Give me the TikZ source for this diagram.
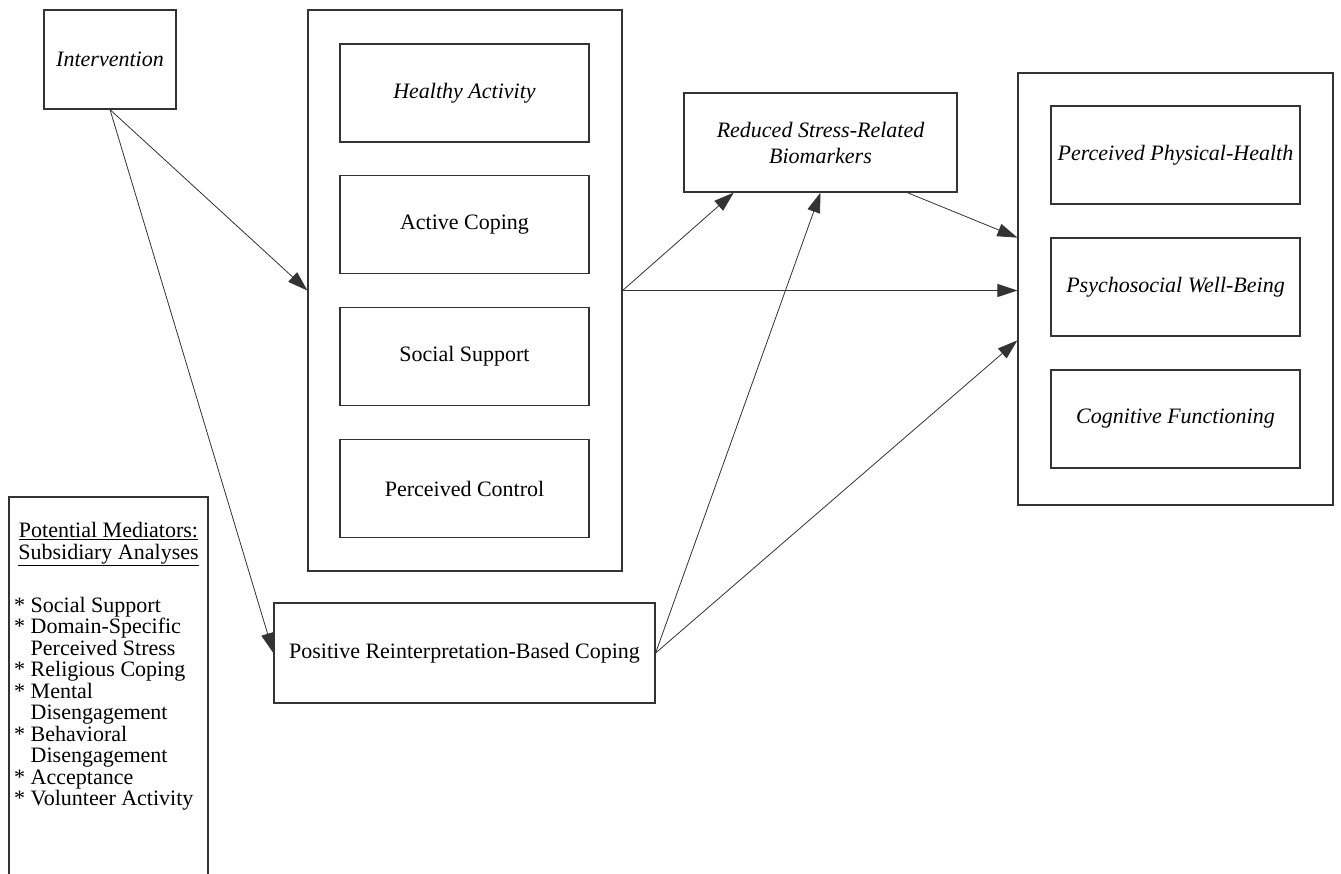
\documentclass[tikz,border=0pt]{standalone}
\usepackage{fontspec}
\setmainfont{Liberation Serif}
\usetikzlibrary{positioning, calc, arrows.meta}

\begin{document}
\begin{tikzpicture}[x=1pt, y=-1pt,
    font=\fontsize{22}{26}\selectfont]

  \tikzset{box/.style={draw=black!80, line width=1.2pt, inner sep=2pt, align=center}}
  \tikzset{inbox/.style={box, minimum width=249pt, minimum height=98pt}}
  \tikzset{frame/.style={draw=black!80, line width=1.2pt, inner sep=0pt}}
  \tikzset{ptr/.style={draw=black!80, line width=0.8pt,
      -{Triangle[length=20pt, width=13pt]}}}

  \useasboundingbox[fill=white] (0, 0) rectangle (1341, 874);

  % intervention
  \node[box, minimum width=132pt, minimum height=99pt] at (110, 59.5) (interv) {\itshape Intervention};

  % mediators
  \node[frame, minimum width=314pt, minimum height=561pt] at (465, 290.5) (medbox) {};
  \node[inbox] at (464.5, 93) (healthy) {\itshape Healthy Activity};
  \node[inbox] at (464.5, 224.5) (active) {Active Coping};
  \node[inbox] at (464.5, 356.5) (social) {Social Support};
  \node[inbox] at (464.5, 488.5) (control) {Perceived Control};

  \node[box, minimum width=381pt, minimum height=100pt] at (464.5, 653) (posre)
    {Positive Reinterpretation-Based Coping};

  \node[box, minimum width=273pt, minimum height=99pt] at (820.5, 142.5) (biomark)
    {\itshape Reduced Stress-Related\\\itshape Biomarkers};

  % outcomes
  \node[frame, minimum width=315pt, minimum height=432pt] at (1175.5, 289) (outbox) {};
  \node[inbox] at (1175.5, 155) (physical) {\itshape Perceived Physical-Health};
  \node[inbox] at (1175.5, 287) (psycho) {\itshape Psychosocial Well-Being};
  \node[inbox] at (1175.5, 419) (cognitive) {\itshape Cognitive Functioning};

  % subsidiary analyses
  \coordinate (lgbl) at (9, 874);
  \coordinate (lgtl) at (9, 497);
  \coordinate (lgtr) at (208, 497);
  \coordinate (lgbr) at (208, 874);
  \draw[draw=black!80, line width=1.2pt] (lgbl) -- (lgtl) -- (lgtr) -- (lgbr);
  \node[align=center, inner sep=0pt, font=\fontsize{22}{22}\selectfont] at (108.5, 544) (lghead)
    {\underline{Potential Mediators:}\\\underline{Subsidiary Analyses}};
  \node[align=left, inner sep=0pt, anchor=north west, font=\fontsize{22}{21.5}\selectfont]
    at (14, 597) (lglist)
    {* Social Support\\
     * Domain-Specific\\\phantom{* }Perceived Stress\\
     * Religious Coping\\
     * Mental\\\phantom{* }Disengagement\\
     * Behavioral\\\phantom{* }Disengagement\\
     * Acceptance\\
     * Volunteer Activity};

  % paths
  \draw[ptr] (interv.south) -- (medbox.west);
  \draw[ptr] (interv.south) -- (posre.west);
  \draw[ptr] (medbox.east) -- (biomark.210);
  \draw[ptr] (medbox.east) -- (medbox.east -| outbox.west);
  \draw[ptr] (posre.east) -- (biomark.south);
  \draw[ptr] (posre.east) -- (outbox.198);
  \draw[ptr] (biomark.330) -- (outbox.162);
\end{tikzpicture}
\end{document}
